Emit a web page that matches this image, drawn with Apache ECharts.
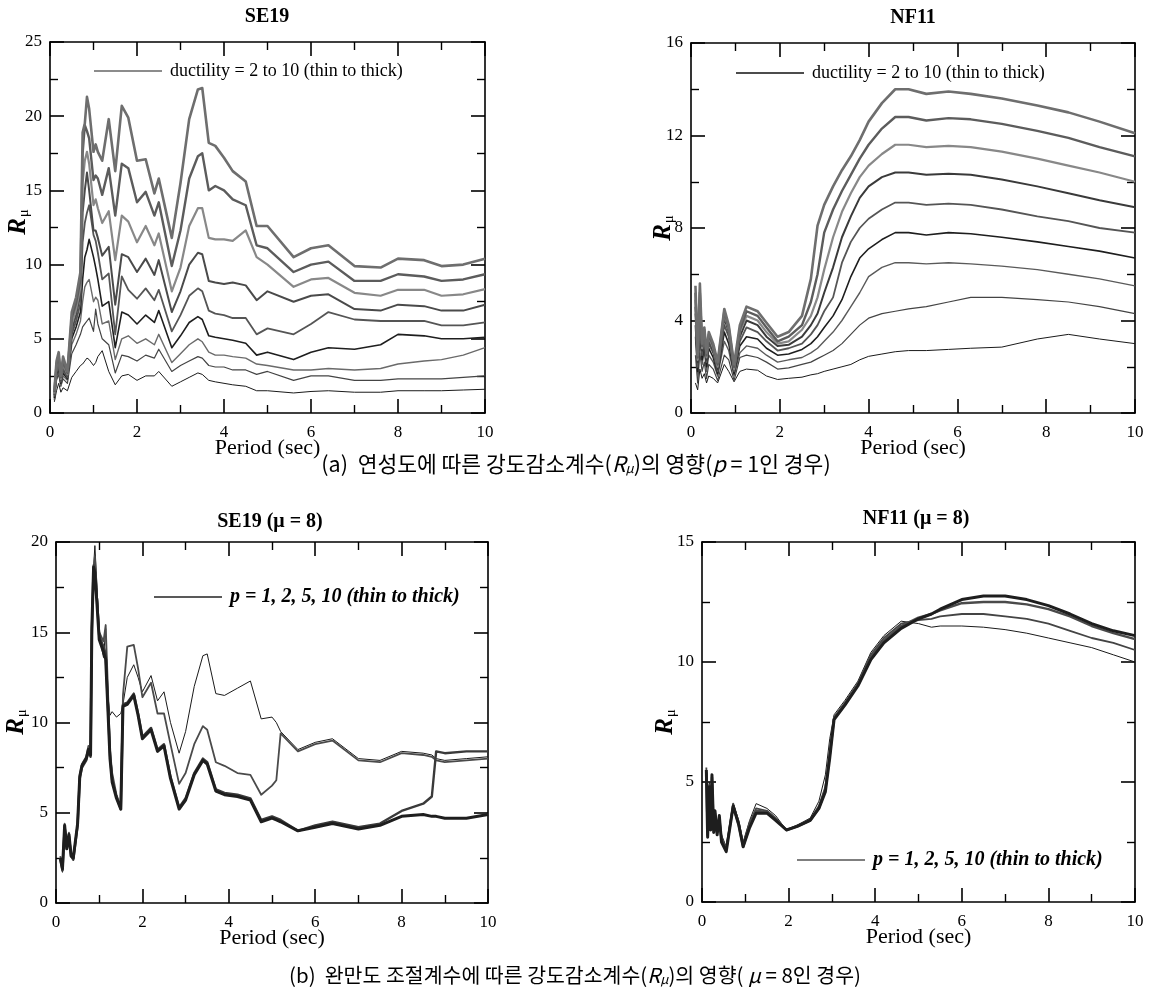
<html>
<head>
<meta charset="utf-8">
<script src="https://cdn.jsdelivr.net/npm/echarts@6/dist/echarts.min.js"></script>
</head>
<body style="margin:0;background:#fff">
<div id="main" style="width:1151px;height:992px"></div>
<script>
// ---- SE19, ductility 2..10 (top left) ----
var se19Periods = [0.1, 0.15, 0.2, 0.25, 0.3, 0.4, 0.5, 0.6, 0.7, 0.75, 0.8, 0.85, 0.9, 1.0, 1.05, 1.1, 1.2, 1.35, 1.5, 1.65, 1.8, 2.0, 2.2, 2.4, 2.5, 2.8, 3.0, 3.2, 3.4, 3.5, 3.65, 3.8, 4.0, 4.2, 4.5, 4.75, 5.0, 5.6, 6.0, 6.4, 7.0, 7.6, 8.0, 8.6, 9.0, 9.5, 10.0];
var se19Mu10 = [1.5, 3.5, 4.1, 2.5, 3.8, 2.8, 6.8, 7.8, 9.5, 18.9, 19.5, 21.3, 20.5, 17.6, 18.1, 17.6, 17.0, 19.8, 16.3, 20.7, 19.9, 17.0, 17.1, 14.8, 15.8, 11.8, 15.5, 19.8, 21.8, 21.9, 18.2, 18.0, 17.2, 16.3, 15.6, 12.6, 12.6, 10.5, 11.1, 11.3, 9.9, 9.8, 10.4, 10.3, 9.9, 10.0, 10.4];
var se19Mu9 = [1.4, 3.3, 3.8, 2.4, 3.5, 2.7, 6.4, 7.4, 9.0, 17.5, 19.4, 19.0, 18.5, 15.7, 16.0, 15.8, 14.7, 16.5, 13.3, 16.8, 16.5, 14.2, 14.9, 13.3, 14.2, 9.9, 12.3, 15.8, 17.3, 17.5, 15.0, 15.3, 15.0, 14.4, 14.0, 11.3, 11.1, 9.5, 10.0, 10.2, 8.9, 8.9, 9.35, 9.2, 8.9, 9.0, 9.35];
var se19Mu8 = [1.3, 3.1, 3.6, 2.3, 3.3, 2.6, 6.0, 7.0, 8.5, 15.5, 17.0, 17.6, 16.8, 14.0, 14.4, 13.8, 12.8, 13.6, 10.3, 13.3, 12.9, 11.5, 12.6, 11.3, 12.1, 8.2, 9.8, 12.6, 13.8, 13.8, 11.8, 11.7, 11.7, 11.6, 12.3, 10.5, 10.0, 8.5, 9.0, 9.1, 8.1, 7.9, 8.3, 8.3, 7.9, 8.0, 8.35];
var se19Mu7 = [1.2, 3.0, 3.4, 2.2, 3.1, 2.5, 5.6, 6.6, 8.0, 13.5, 15.0, 16.2, 15.0, 12.3, 12.3, 11.8, 10.6, 11.2, 7.3, 10.7, 10.5, 9.5, 10.4, 9.3, 10.3, 6.8, 8.2, 10.0, 10.8, 10.7, 8.9, 8.8, 8.7, 8.8, 8.6, 7.6, 8.2, 7.5, 7.9, 8.0, 7.0, 6.9, 7.3, 7.2, 6.9, 6.9, 7.3];
var se19Mu6 = [1.1, 2.8, 3.2, 2.1, 2.9, 2.4, 5.3, 6.2, 7.4, 11.5, 12.8, 13.5, 14.0, 12.0, 11.6, 10.8, 9.0, 9.4, 5.3, 9.2, 8.3, 7.7, 8.4, 7.6, 8.3, 5.5, 6.6, 7.9, 8.4, 8.2, 6.9, 6.7, 6.6, 6.4, 6.4, 5.3, 5.7, 5.3, 6.0, 6.8, 6.3, 6.2, 6.2, 6.2, 5.9, 5.9, 6.1];
var se19Mu5 = [1.0, 2.6, 3.0, 2.0, 2.7, 2.3, 5.0, 5.8, 6.8, 9.0, 10.5, 11.0, 11.7, 10.5, 9.8, 9.0, 7.2, 7.5, 4.4, 6.8, 6.6, 6.0, 6.6, 6.1, 6.9, 4.4, 5.2, 6.1, 6.5, 6.3, 5.2, 5.1, 5.0, 4.9, 4.7, 3.9, 4.1, 3.6, 4.1, 4.4, 4.3, 4.6, 5.3, 5.2, 5.0, 5.0, 5.1];
var se19Mu4 = [0.9, 2.4, 2.8, 1.9, 2.5, 2.2, 4.6, 5.3, 6.2, 7.5, 8.5, 8.8, 9.0, 7.5, 7.8, 7.6, 6.0, 6.2, 3.6, 5.0, 5.2, 4.7, 5.0, 4.6, 5.3, 3.4, 4.0, 4.6, 5.0, 4.8, 4.1, 3.9, 3.9, 3.8, 3.7, 3.3, 3.2, 2.9, 2.9, 3.0, 2.9, 3.0, 3.3, 3.5, 3.6, 3.9, 4.4];
var se19Mu3 = [0.85, 2.2, 2.6, 1.8, 2.3, 2.0, 4.0, 4.6, 5.3, 5.8, 6.0, 6.2, 6.4, 5.5, 7.0, 6.0, 5.0, 4.6, 2.7, 3.9, 3.8, 3.5, 3.9, 3.7, 4.3, 2.8, 3.2, 3.5, 3.8, 3.7, 3.2, 3.1, 3.1, 2.9, 2.9, 2.6, 2.8, 2.2, 2.5, 2.5, 2.2, 2.2, 2.3, 2.3, 2.3, 2.4, 2.5];
var se19Mu2 = [0.75, 1.5, 2.0, 1.4, 1.7, 1.5, 2.4, 2.8, 3.2, 3.3, 3.5, 3.7, 3.6, 3.2, 3.4, 3.8, 4.2, 2.8, 1.9, 2.5, 2.6, 2.2, 2.5, 2.5, 2.8, 1.8, 2.1, 2.4, 2.7, 2.6, 2.2, 2.1, 2.0, 1.9, 1.8, 1.5, 1.5, 1.35, 1.45, 1.5, 1.4, 1.4, 1.5, 1.5, 1.5, 1.55, 1.6];

// ---- NF11, ductility 2..10 (top right) ----
var nf11Periods = [0.1, 0.15, 0.2, 0.25, 0.3, 0.35, 0.4, 0.5, 0.6, 0.75, 0.85, 0.97, 1.1, 1.25, 1.5, 1.7, 1.95, 2.2, 2.5, 2.7, 2.85, 3.0, 3.2, 3.4, 3.6, 3.8, 4.0, 4.3, 4.6, 4.9, 5.3, 5.8, 6.3, 7.0, 7.8, 8.5, 9.2, 10.0];
var nf11Mu10 = [5.5, 2.5, 5.6, 3.0, 3.7, 2.6, 3.5, 3.0, 2.2, 4.5, 3.8, 2.1, 3.8, 4.6, 4.4, 3.9, 3.3, 3.5, 4.2, 5.8, 8.1, 9.0, 9.8, 10.5, 11.1, 11.8, 12.6, 13.4, 14.0, 14.0, 13.8, 13.9, 13.8, 13.6, 13.3, 13.0, 12.6, 12.1];
var nf11Mu9 = [5.2, 2.4, 5.2, 2.9, 3.6, 2.5, 3.4, 2.9, 2.1, 4.4, 3.7, 2.0, 3.6, 4.4, 4.2, 3.7, 3.1, 3.3, 3.8, 4.8, 6.0, 7.8, 8.8, 9.6, 10.3, 11.0, 11.6, 12.3, 12.8, 12.8, 12.65, 12.75, 12.7, 12.5, 12.2, 11.9, 11.5, 11.1];
var nf11Mu8 = [4.9, 2.3, 4.9, 2.8, 3.5, 2.4, 3.3, 2.8, 2.0, 4.3, 3.6, 1.9, 3.5, 4.2, 4.0, 3.5, 3.0, 3.1, 3.6, 4.2, 5.0, 6.2, 7.6, 8.7, 9.5, 10.2, 10.7, 11.2, 11.6, 11.6, 11.5, 11.55, 11.5, 11.3, 11.0, 10.7, 10.4, 10.0];
var nf11Mu7 = [4.6, 2.2, 4.6, 2.7, 3.4, 2.3, 3.2, 2.7, 1.9, 4.1, 3.5, 1.9, 3.3, 4.0, 3.8, 3.3, 2.9, 2.95, 3.3, 3.8, 4.3, 5.2, 6.3, 7.6, 8.5, 9.3, 9.8, 10.2, 10.4, 10.4, 10.3, 10.35, 10.3, 10.1, 9.8, 9.5, 9.2, 8.9];
var nf11Mu6 = [4.3, 2.0, 4.3, 2.5, 3.2, 2.2, 3.0, 2.6, 1.8, 3.8, 3.3, 1.8, 3.1, 3.7, 3.5, 3.1, 2.7, 2.8, 3.0, 3.4, 3.8, 4.4, 5.0, 6.5, 7.4, 8.0, 8.4, 8.8, 9.1, 9.1, 9.0, 9.05, 9.0, 8.8, 8.5, 8.3, 8.0, 7.8];
var nf11Mu5 = [3.8, 1.8, 3.8, 2.3, 3.0, 2.0, 2.8, 2.4, 1.7, 3.5, 3.0, 1.7, 2.9, 3.3, 3.2, 2.8, 2.5, 2.55, 2.75, 3.0, 3.3, 3.7, 4.2, 4.9, 5.9, 6.7, 7.1, 7.5, 7.8, 7.8, 7.7, 7.8, 7.75, 7.6, 7.4, 7.2, 7.0, 6.7];
var nf11Mu4 = [3.3, 1.6, 3.3, 2.1, 2.7, 1.8, 2.5, 2.2, 1.6, 3.1, 2.7, 1.6, 2.6, 2.9, 2.8, 2.5, 2.2, 2.3, 2.4, 2.6, 2.8, 3.1, 3.5, 4.0, 4.6, 5.2, 5.9, 6.3, 6.5, 6.5, 6.45, 6.5, 6.45, 6.35, 6.2, 6.0, 5.8, 5.5];
var nf11Mu3 = [2.5, 1.3, 2.6, 1.8, 2.2, 1.5, 2.1, 1.9, 1.4, 2.5, 2.3, 1.4, 2.4, 2.5, 2.4, 2.2, 1.9, 1.95, 2.1, 2.2, 2.35, 2.5, 2.7, 3.0, 3.4, 3.8, 4.1, 4.3, 4.4, 4.5, 4.6, 4.8, 5.0, 5.0, 4.9, 4.8, 4.6, 4.3];
var nf11Mu2 = [1.3, 1.0, 1.9, 1.5, 1.7, 1.3, 1.6, 1.5, 1.3, 2.1, 1.8, 1.35, 1.8, 1.9, 1.85, 1.6, 1.45, 1.5, 1.55, 1.65, 1.7, 1.8, 1.9, 2.0, 2.1, 2.3, 2.45, 2.55, 2.65, 2.7, 2.7, 2.75, 2.8, 2.85, 3.2, 3.4, 3.2, 3.0];

// ---- SE19, mu = 8, p = 1, 2, 5, 10 (bottom left) ----
var se19pPeriods = [0.1, 0.15, 0.2, 0.25, 0.3, 0.35, 0.4, 0.5, 0.55, 0.6, 0.7, 0.75, 0.8, 0.83, 0.87, 0.9, 0.95, 1.0, 1.1, 1.15, 1.2, 1.25, 1.3, 1.4, 1.5, 1.55, 1.65, 1.8, 1.9, 2.0, 2.2, 2.35, 2.5, 2.65, 2.85, 3.0, 3.2, 3.4, 3.5, 3.7, 3.9, 4.2, 4.5, 4.75, 5.0, 5.1, 5.2, 5.6, 6.0, 6.4, 7.0, 7.5, 8.0, 8.5, 8.7, 8.8, 9.0, 9.5, 10.0];
var se19P1 = [2.5, 1.7, 4.3, 3.2, 3.8, 2.8, 2.5, 4.5, 7.0, 7.6, 8.0, 8.6, 8.3, 16.0, 18.6, 19.8, 17.5, 14.8, 13.6, 15.2, 11.5, 10.4, 10.6, 10.3, 10.5, 11.0, 12.5, 13.2, 12.5, 11.7, 12.6, 11.2, 11.7, 10.0, 8.3, 9.5, 12.0, 13.7, 13.8, 11.6, 11.5, 11.9, 12.3, 10.2, 10.3, 10.0, 9.5, 8.5, 8.9, 9.1, 8.0, 7.9, 8.4, 8.3, 8.2, 8.0, 7.9, 8.0, 8.1];
var se19P2 = [2.6, 1.8, 4.4, 3.1, 3.9, 2.7, 2.4, 4.4, 7.1, 7.7, 8.1, 8.7, 8.2, 15.5, 18.4, 19.2, 17.0, 15.0, 14.5, 15.4, 12.0, 8.5, 7.2, 6.0, 5.3, 11.5, 14.2, 14.3, 13.0, 11.4, 12.2, 10.5, 10.5, 8.8, 6.6, 7.2, 8.8, 9.8, 9.6, 7.8, 7.6, 7.2, 7.1, 6.0, 6.5, 6.8, 9.4, 8.4, 8.8, 9.0, 7.9, 7.8, 8.3, 8.2, 8.1, 7.9, 7.8, 7.9, 8.0];
var se19P5 = [2.4, 1.8, 4.2, 3.0, 3.7, 2.6, 2.4, 4.3, 6.9, 7.5, 7.9, 8.4, 8.1, 15.0, 18.7, 18.6, 16.8, 14.8, 14.2, 13.8, 11.0, 8.2, 6.8, 5.9, 5.2, 11.0, 11.1, 11.6, 10.5, 9.2, 9.7, 8.5, 8.8, 7.0, 5.3, 5.8, 7.2, 8.0, 7.8, 6.3, 6.1, 6.0, 5.8, 4.6, 4.8, 4.7, 4.6, 4.0, 4.3, 4.5, 4.2, 4.4, 5.1, 5.5, 5.9, 8.4, 8.3, 8.4, 8.4];
var se19P10 = [2.5, 1.9, 4.3, 3.0, 3.8, 2.6, 2.5, 4.4, 7.0, 7.6, 8.0, 8.5, 8.2, 15.2, 18.6, 18.3, 16.5, 14.6, 13.9, 13.5, 10.8, 8.0, 6.7, 5.8, 5.2, 10.9, 11.0, 11.5, 10.4, 9.1, 9.6, 8.4, 8.7, 6.9, 5.2, 5.7, 7.1, 7.9, 7.7, 6.2, 6.0, 5.9, 5.7, 4.5, 4.7, 4.6, 4.5, 4.0, 4.2, 4.4, 4.1, 4.3, 4.8, 4.9, 4.8, 4.8, 4.7, 4.7, 4.9];

// ---- NF11, mu = 8, p = 1, 2, 5, 10 (bottom right) ----
var nf11pPeriods = [0.1, 0.13, 0.17, 0.2, 0.23, 0.27, 0.3, 0.35, 0.4, 0.45, 0.56, 0.72, 0.85, 0.95, 1.1, 1.25, 1.5, 1.7, 1.95, 2.2, 2.5, 2.7, 2.85, 2.95, 3.05, 3.3, 3.6, 3.9, 4.2, 4.6, 5.0, 5.3, 5.5, 6.0, 6.5, 7.0, 7.5, 8.0, 8.5, 9.0, 9.5, 10.0];
var nf11P10 = [5.5, 2.7, 4.8, 3.0, 5.3, 2.9, 3.8, 2.8, 3.6, 2.5, 2.1, 4.0, 3.2, 2.3, 3.1, 3.7, 3.7, 3.4, 3.0, 3.15, 3.4, 3.9, 4.6, 6.0, 7.6, 8.2, 9.0, 10.1, 10.8, 11.4, 11.8, 12.0, 12.2, 12.6, 12.75, 12.75, 12.6, 12.35, 12.0, 11.6, 11.3, 11.1];
var nf11P5 = [5.4, 2.8, 4.7, 3.1, 5.2, 3.0, 3.7, 2.9, 3.5, 2.6, 2.2, 4.0, 3.2, 2.3, 3.2, 3.8, 3.75, 3.45, 3.0, 3.15, 3.4, 3.9, 4.7, 6.1, 7.65, 8.25, 9.05, 10.2, 10.9, 11.5, 11.85, 12.0, 12.15, 12.45, 12.5, 12.5, 12.4, 12.2, 11.9, 11.5, 11.2, 10.95];
var nf11P2 = [5.6, 2.9, 4.9, 3.2, 5.1, 3.1, 3.6, 3.0, 3.5, 2.7, 2.2, 4.1, 3.3, 2.4, 3.3, 3.9, 3.8, 3.5, 3.0, 3.2, 3.45, 4.0, 4.8, 6.3, 7.7, 8.3, 9.1, 10.3, 11.0, 11.6, 11.75, 11.8, 11.9, 12.0, 12.0, 11.9, 11.8, 11.6, 11.3, 11.0, 10.8, 10.5];
var nf11P1 = [5.3, 3.0, 5.0, 3.3, 4.9, 3.2, 3.5, 3.1, 3.4, 2.8, 2.3, 4.1, 3.4, 2.5, 3.4, 4.1, 3.9, 3.6, 3.0, 3.2, 3.5, 4.2, 5.3, 6.8, 7.8, 8.4, 9.2, 10.4, 11.1, 11.7, 11.6, 11.45, 11.5, 11.5, 11.45, 11.35, 11.2, 11.0, 10.8, 10.6, 10.3, 10.0];

var ductText = 'ductility = 2 to 10 (thin to thick)';
var pText = 'p = 1, 2, 5, 10 (thin to thick)';

var serif = "'Liberation Serif', 'Times New Roman', serif";
var kr = "'Noto Sans CJK KR', 'Noto Sans', sans-serif";
var myChart = echarts.init(document.getElementById('main'));

function pairs(periods, values) {
    var out = [];
    for (var i = 0; i < periods.length; i++) {
        out.push([periods[i], values[i]]);
    }
    return out;
}

function xAxis(grid, top) {
    return {
        type: 'value', gridIndex: grid, position: top ? 'top' : 'bottom',
        min: 0, max: 10, interval: 2,
        name: top ? '' : 'Period (sec)',
        nameLocation: 'middle', nameGap: 24, nameMoveOverlap: false,
        nameTextStyle: {fontFamily: serif, fontSize: 22, color: '#000', verticalAlign: 'top'},
        axisLine: {show: true, onZero: false, lineStyle: {color: '#000', width: 1.6}},
        axisTick: {show: true, inside: true, length: 14, lineStyle: {color: '#000', width: 1.6}},
        minorTick: {show: true, splitNumber: 2, length: 8, lineStyle: {color: '#000', width: 1.4}},
        axisLabel: {show: !top, color: '#000', fontFamily: serif, fontSize: 17, margin: 11},
        splitLine: {show: false}
    };
}

function yAxis(grid, right, max, interval) {
    return {
        type: 'value', gridIndex: grid, position: right ? 'right' : 'left',
        min: 0, max: max, interval: interval,
        axisLine: {show: true, onZero: false, lineStyle: {color: '#000', width: 1.6}},
        axisTick: {show: true, inside: true, length: 14, lineStyle: {color: '#000', width: 1.6}},
        minorTick: {show: true, splitNumber: 2, length: 8, lineStyle: {color: '#000', width: 1.4}},
        axisLabel: {show: !right, color: '#000', fontFamily: serif, fontSize: 17, margin: 8},
        splitLine: {show: false}
    };
}

function line(name, axis, periods, values, color, width) {
    return {
        name: name, type: 'line', xAxisIndex: axis, yAxisIndex: axis,
        data: pairs(periods, values),
        showSymbol: false, symbol: 'none', smooth: false,
        lineStyle: {color: color, width: width, join: 'round'},
        itemStyle: {color: color},
        emphasis: {disabled: true}
    };
}

function legend(left, top, color, bold, name) {
    return {
        left: left, top: top, padding: 0, icon: 'rect',
        itemWidth: 68, itemHeight: 1.5, selectedMode: false,
        data: [{name: name, itemStyle: {color: color}}],
        textStyle: {
            fontFamily: serif, fontSize: bold ? 20 : 18, color: '#000',
            fontWeight: bold ? 'bold' : 'normal', fontStyle: bold ? 'italic' : 'normal',
            padding: [0, 0, 0, 3]
        }
    };
}

function rmu(x, y) {
    return {
        type: 'text', x: x, y: y, rotation: Math.PI / 2,
        style: {
            text: '{r|R}{m|\u03bc}', align: 'center', verticalAlign: 'middle',
            rich: {
                r: {fontFamily: serif, fontSize: 25, fontWeight: 'bold', fontStyle: 'italic', fill: '#000'},
                m: {fontFamily: serif, fontSize: 15, fill: '#000', verticalAlign: 'bottom', padding: [10, 0, 0, 1]}
            }
        }
    };
}

function title(x, y, text) {
    return {
        type: 'text', x: x, y: y,
        style: {text: text, align: 'center', verticalAlign: 'middle', fontFamily: serif,
                fontSize: 20, fontWeight: 'bold', fill: '#000'}
    };
}

function capRich(size) {
    return {
        i: {fontFamily: kr, fontSize: size, fontStyle: 'italic', fill: '#000'},
        s: {fontFamily: kr, fontSize: Math.round(size * 0.62), fontStyle: 'italic', fill: '#000',
            verticalAlign: 'bottom', padding: [Math.round(size * 0.38), 0, 0, 0]}
    };
}

var series = [
    line(ductText, 0, se19Periods, se19Mu2, '#1a1a1a', 1.0),
    line(ductText, 0, se19Periods, se19Mu3, '#444', 1.2),
    line(ductText, 0, se19Periods, se19Mu4, '#6a6a6a', 1.4),
    line(ductText, 0, se19Periods, se19Mu5, '#1e1e1e', 1.6),
    line(ductText, 0, se19Periods, se19Mu6, '#555', 1.8),
    line(ductText, 0, se19Periods, se19Mu7, '#4a4a4a', 2.0),
    line(ductText, 0, se19Periods, se19Mu8, '#888', 2.2),
    line(ductText, 0, se19Periods, se19Mu9, '#5c5c5c', 2.4),
    line(ductText, 0, se19Periods, se19Mu10, '#6e6e6e', 2.6),

    line(ductText, 2, nf11Periods, nf11Mu2, '#1a1a1a', 1.0),
    line(ductText, 2, nf11Periods, nf11Mu3, '#444', 1.2),
    line(ductText, 2, nf11Periods, nf11Mu4, '#5a5a5a', 1.4),
    line(ductText, 2, nf11Periods, nf11Mu5, '#1e1e1e', 1.6),
    line(ductText, 2, nf11Periods, nf11Mu6, '#555', 1.8),
    line(ductText, 2, nf11Periods, nf11Mu7, '#3a3a3a', 2.0),
    line(ductText, 2, nf11Periods, nf11Mu8, '#888', 2.2),
    line(ductText, 2, nf11Periods, nf11Mu9, '#5c5c5c', 2.4),
    line(ductText, 2, nf11Periods, nf11Mu10, '#6e6e6e', 2.6),

    line(pText, 4, se19pPeriods, se19P1, '#1a1a1a', 1.0),
    line(pText, 4, se19pPeriods, se19P2, '#4a4a4a', 1.8),
    line(pText, 4, se19pPeriods, se19P5, '#3a3a3a', 2.4),
    line(pText, 4, se19pPeriods, se19P10, '#1e1e1e', 3.0),

    line(pText, 6, nf11pPeriods, nf11P1, '#1a1a1a', 1.0),
    line(pText, 6, nf11pPeriods, nf11P2, '#444', 1.8),
    line(pText, 6, nf11pPeriods, nf11P5, '#4a4a4a', 2.4),
    line(pText, 6, nf11pPeriods, nf11P10, '#1e1e1e', 3.0)
];

myChart.setOption({
    backgroundColor: '#fff',
    animation: false,
    grid: [
        {left: 50, top: 42, width: 435, height: 371},
        {left: 691, top: 43, width: 444, height: 370},
        {left: 56, top: 542, width: 432, height: 361},
        {left: 702, top: 542, width: 433, height: 360}
    ],
    xAxis: [xAxis(0, false), xAxis(0, true), xAxis(1, false), xAxis(1, true),
            xAxis(2, false), xAxis(2, true), xAxis(3, false), xAxis(3, true)],
    yAxis: [yAxis(0, false, 25, 5), yAxis(0, true, 25, 5),
            yAxis(1, false, 16, 4), yAxis(1, true, 16, 4),
            yAxis(2, false, 20, 5), yAxis(2, true, 20, 5),
            yAxis(3, false, 15, 5), yAxis(3, true, 15, 5)],
    legend: [
        legend(94, 62, '#666', false, ductText),
        legend(736, 64, '#111', false, ductText),
        legend(154, 587, '#222', true, pText),
        legend(797, 850, '#555', true, pText)
    ],
    graphic: [
        title(267, 17, 'SE19'),
        title(913, 18, 'NF11'),
        title(270, 522, 'SE19 (\u03bc = 8)'),
        title(916, 519, 'NF11 (\u03bc = 8)'),
        rmu(19, 222),
        rmu(664, 228),
        rmu(17, 722),
        rmu(666, 722),
        {
            type: 'text', x: 576, y: 464,
            style: {
                text: '(a)  \uc5f0\uc131\ub3c4\uc5d0 \ub530\ub978 \uac15\ub3c4\uac10\uc18c\uacc4\uc218({i|R}{s|\u03bc})\uc758 \uc601\ud5a5({i|p} = 1\uc778 \uacbd\uc6b0)',
                align: 'center', verticalAlign: 'middle',
                fontFamily: kr, fontSize: 21.5, fill: '#000', rich: capRich(21.5)
            }
        },
        {
            type: 'text', x: 575, y: 975,
            style: {
                text: '(b)  \uc644\ub9cc\ub3c4 \uc870\uc808\uacc4\uc218\uc5d0 \ub530\ub978 \uac15\ub3c4\uac10\uc18c\uacc4\uc218({i|R}{s|\u03bc})\uc758 \uc601\ud5a5( {i|\u03bc} = 8\uc778 \uacbd\uc6b0)',
                align: 'center', verticalAlign: 'middle',
                fontFamily: kr, fontSize: 20.5, fill: '#000', rich: capRich(20.5)
            }
        }
    ],
    series: series
});
</script>
</body>
</html>
